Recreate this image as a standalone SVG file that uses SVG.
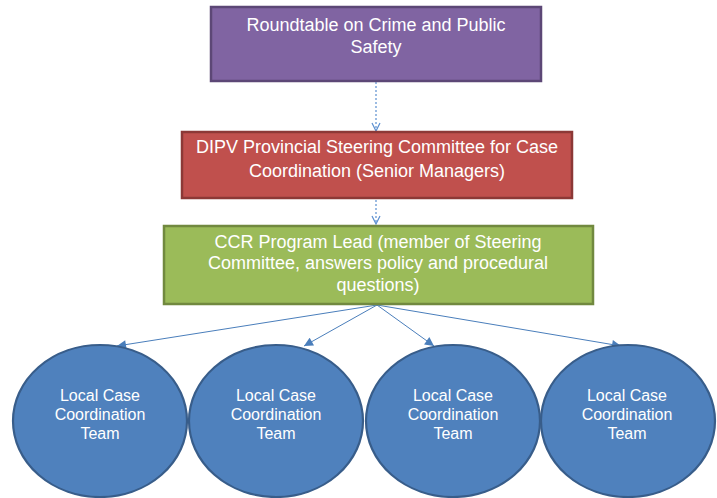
<svg xmlns="http://www.w3.org/2000/svg" width="717" height="498" viewBox="0 0 717 498">
  <style>
    .lbl { font-family: "Liberation Sans", Arial, sans-serif; font-size: 18px; fill: #ffffff; text-anchor: middle; }
    .team { font-size: 16px; }
    .dash { stroke: #5B8FD0; stroke-width: 1.2; stroke-dasharray: 2 2; fill: none; }
    .fan { stroke: #4A7EBB; stroke-width: 1; fill: none; }
    .oval { fill: #4F81BD; stroke: #385D8A; stroke-width: 2.2; }
  </style>
  <defs>
    <marker id="open" viewBox="0 0 10 10" refX="9" refY="5" markerWidth="10" markerHeight="10" markerUnits="userSpaceOnUse" orient="auto">
      <path d="M1,1 L9,5 L1,9" fill="none" stroke="#5B8FD0" stroke-width="1.2"/>
    </marker>
    <marker id="tri" viewBox="0 0 10 10" refX="10" refY="5" markerWidth="10" markerHeight="9" markerUnits="userSpaceOnUse" orient="auto">
      <path d="M0,0 L10,5 L0,10 Z" fill="#4A7EBB"/>
    </marker>
  </defs>

  <g id="connectors">
    <line class="dash" x1="376" y1="82" x2="376" y2="131" marker-end="url(#open)"/>
    <line class="dash" x1="376" y1="172" x2="376" y2="224" marker-end="url(#open)"/>
    <line class="fan" x1="377" y1="305" x2="117" y2="346" marker-end="url(#tri)"/>
    <line class="fan" x1="377" y1="305" x2="304" y2="346" marker-end="url(#tri)"/>
    <line class="fan" x1="377" y1="305" x2="434" y2="346" marker-end="url(#tri)"/>
    <line class="fan" x1="377" y1="305" x2="621" y2="346" marker-end="url(#tri)"/>
  </g>

  <g id="roundtable">
    <rect x="211" y="7" width="330" height="74" fill="#8064A2" stroke="#5C4776" stroke-width="2.5"/>
    <text class="lbl" x="376" y="31">Roundtable on Crime and Public</text>
    <text class="lbl" x="376" y="53">Safety</text>
  </g>

  <g id="steering">
    <rect x="182" y="132" width="390" height="66" fill="#C0504D" stroke="#8C3836" stroke-width="2.5"/>
    <text class="lbl" x="377" y="153">DIPV Provincial Steering Committee for Case</text>
    <text class="lbl" x="377" y="177">Coordination (Senior Managers)</text>
  </g>

  <g id="program-lead">
    <rect x="164" y="226" width="429" height="78" fill="#9BBB59" stroke="#71893F" stroke-width="2.5"/>
    <text class="lbl" x="378" y="248">CCR Program Lead (member of Steering</text>
    <text class="lbl" x="378" y="269">Committee, answers policy and procedural</text>
    <text class="lbl" x="378" y="291">questions)</text>
  </g>

  <g id="team-1">
    <ellipse class="oval" cx="100" cy="421" rx="87" ry="76"/>
    <text class="lbl team" x="100" y="401">Local Case</text>
    <text class="lbl team" x="100" y="420">Coordination</text>
    <text class="lbl team" x="100" y="439">Team</text>
  </g>

  <g id="team-2">
    <ellipse class="oval" cx="276" cy="421" rx="87" ry="76"/>
    <text class="lbl team" x="276" y="401">Local Case</text>
    <text class="lbl team" x="276" y="420">Coordination</text>
    <text class="lbl team" x="276" y="439">Team</text>
  </g>

  <g id="team-3">
    <ellipse class="oval" cx="453" cy="421" rx="87" ry="76"/>
    <text class="lbl team" x="453" y="401">Local Case</text>
    <text class="lbl team" x="453" y="420">Coordination</text>
    <text class="lbl team" x="453" y="439">Team</text>
  </g>

  <g id="team-4">
    <ellipse class="oval" cx="628" cy="421" rx="87" ry="76"/>
    <text class="lbl team" x="627" y="401">Local Case</text>
    <text class="lbl team" x="627" y="420">Coordination</text>
    <text class="lbl team" x="627" y="439">Team</text>
  </g>
</svg>
